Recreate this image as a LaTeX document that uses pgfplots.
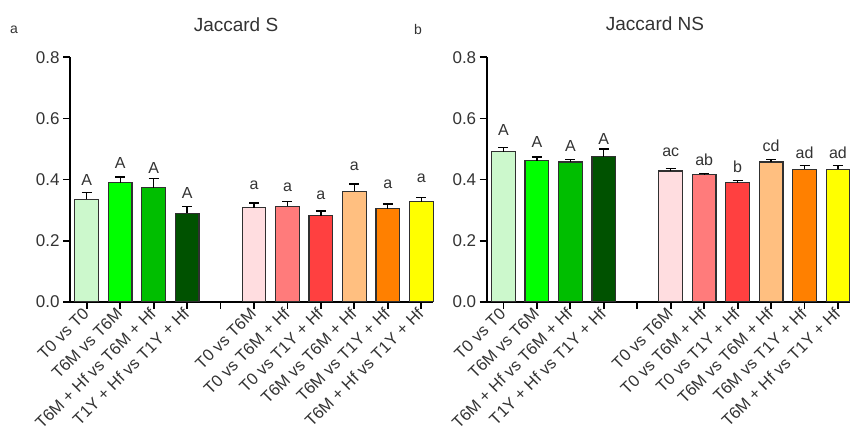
\documentclass[border=0pt]{standalone}
\usepackage{fontspec}
\setmainfont{Liberation Sans}
\usepackage{pgfplots}
\usepackage{pgfplotstable}
\pgfplotsset{compat=1.18}

\definecolor{txt}{HTML}{333333}
\definecolor{barline}{HTML}{303030}
\definecolor{c0}{HTML}{CCF8CC}
\definecolor{c1}{HTML}{00FF00}
\definecolor{c2}{HTML}{00BE00}
\definecolor{c3}{HTML}{005200}
\definecolor{c5}{HTML}{FFDDE0}
\definecolor{c6}{HTML}{FF7B7B}
\definecolor{c7}{HTML}{FF4040}
\definecolor{c8}{HTML}{FFBF80}
\definecolor{c9}{HTML}{FF8000}
\definecolor{c10}{HTML}{FFFF00}

% x  value  error  label-y  label
\pgfplotstableread{
x y e ly lab
0 0.335 0.023 0.382 A
1 0.389 0.019 0.437 A
2 0.373 0.031 0.420 A
3 0.289 0.022 0.338 A
5 0.308 0.015 0.366 a
6 0.312 0.015 0.360 a
7 0.282 0.015 0.335 a
8 0.362 0.023 0.429 a
9 0.304 0.016 0.371 a
10 0.327 0.015 0.390 a
}\dataS

\pgfplotstableread{
x y e ly lab
0 0.491 0.013 0.544 A
1 0.462 0.012 0.504 A
2 0.457 0.008 0.491 A
3 0.474 0.026 0.516 A
5 0.428 0.007 0.475 ac
6 0.416 0.004 0.447 ab
7 0.389 0.008 0.422 b
8 0.457 0.008 0.491 cd
9 0.434 0.012 0.469 ad
10 0.434 0.011 0.469 ad
}\dataNS

\pgfplotsset{
  jac/.style={
    scale only axis, width=363bp, height=244.4bp,
    xmin=-0.5, xmax=10.35, ymin=0, ymax=0.8,
    enlargelimits=false, clip=false,
    axis lines=left,
    axis line style={-, line width=2bp, black},
    tick align=outside,
    major tick length=7bp,
    tick style={black, line width=1.8bp},
    ytick={0,0.2,0.4,0.6,0.8},
    yticklabel style={/pgf/number format/fixed, /pgf/number format/fixed zerofill, /pgf/number format/precision=1, /pgf/number format/assume math mode=true,
      font=\fontsize{17bp}{20bp}\selectfont, text=txt},
    xtick={0,...,10},
    xticklabels={T0 vs T0, T6M vs T6M, {T6M + Hf vs T6M + Hf}, {T1Y + Hf vs T1Y + Hf}, {},
      T0 vs T6M, {T0 vs T6M + Hf}, {T0 vs T1Y + Hf}, {T6M vs T6M + Hf}, {T6M vs T1Y + Hf}, {T6M + Hf vs T1Y + Hf}},
    xticklabel style={rotate=45, anchor=east, font=\fontsize{16.5bp}{19bp}\selectfont, text=txt, inner sep=2bp, yshift=-1bp},
  },
}

\newcommand{\jbar}[4]{%
  \addplot[ybar, bar shift=0pt, bar width=23.7bp, fill=#1, draw=barline, line width=1.2bp,
    error bars/.cd, y dir=plus, y explicit, error mark=-,
    error bar style={black, line width=1.3bp},
    error mark options={rotate=90, black, mark size=5bp, line width=1.3bp}]
    coordinates {(#2,#3) +- (0,#4)};}

\newcommand{\jletters}[1]{%
  \addplot[draw=none, mark=none, nodes near coords, point meta=explicit symbolic,
    every node near coord/.append style={anchor=base, font=\fontsize{16bp}{19bp}\selectfont, text=txt, inner sep=0pt}]
    table[x=x, y=ly, meta=lab] {#1};}

\begin{document}
\begin{tikzpicture}
\begin{axis}[jac, at={(70bp,-301.7bp)}, anchor=south west]
\jbar{c0}{0}{0.335}{0.023}
\jbar{c1}{1}{0.389}{0.019}
\jbar{c2}{2}{0.373}{0.031}
\jbar{c3}{3}{0.289}{0.022}
\jbar{c5}{5}{0.308}{0.015}
\jbar{c6}{6}{0.312}{0.015}
\jbar{c7}{7}{0.282}{0.015}
\jbar{c8}{8}{0.362}{0.023}
\jbar{c9}{9}{0.304}{0.016}
\jbar{c10}{10}{0.327}{0.015}
\jletters{\dataS}
\end{axis}

\begin{axis}[jac, at={(486.7bp,-301.7bp)}, anchor=south west]
\jbar{c0}{0}{0.491}{0.013}
\jbar{c1}{1}{0.462}{0.012}
\jbar{c2}{2}{0.457}{0.008}
\jbar{c3}{3}{0.474}{0.026}
\jbar{c5}{5}{0.428}{0.007}
\jbar{c6}{6}{0.416}{0.004}
\jbar{c7}{7}{0.389}{0.008}
\jbar{c8}{8}{0.457}{0.008}
\jbar{c9}{9}{0.434}{0.012}
\jbar{c10}{10}{0.434}{0.011}
\jletters{\dataNS}
\end{axis}

\node[text=txt, font=\fontsize{19bp}{22bp}\selectfont] at (236bp,-25bp) {Jaccard S};
\node[text=txt, font=\fontsize{19bp}{22bp}\selectfont] at (655bp,-24bp) {Jaccard NS};
\node[text=txt, font=\fontsize{14bp}{17bp}\selectfont] at (14bp,-30bp) {a};
\node[text=txt, font=\fontsize{14bp}{17bp}\selectfont] at (418bp,-29bp) {b};

\pgfresetboundingbox
\useasboundingbox (0bp,0bp) rectangle (852bp,-428bp);
\end{tikzpicture}
\end{document}
